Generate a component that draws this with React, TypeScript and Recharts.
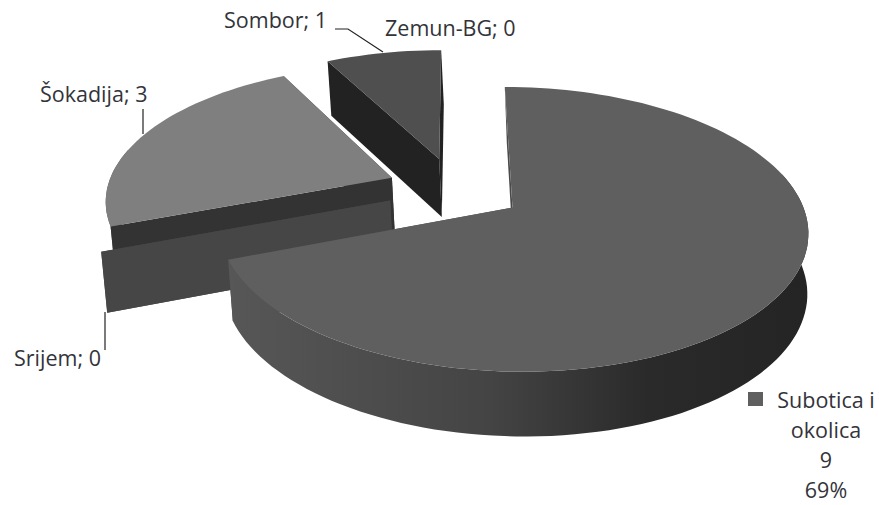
import { Pie, PieChart } from 'recharts';

// listed counter-clockwise from 12 o'clock, so the front slice paints last
const regions = ['Zemun-BG', 'Sombor', 'Šokadija', 'Srijem', 'Subotica i okolica'];
const counts = [0, 1, 3, 0, 9];
const topColors = ['#555555', '#4f4f4f', '#7f7f7f', '#464646', '#5f5f5f'];
const cutColors = ['#222222', '#222222', '#333333', '#464646', '#4a4a4a'];

const data = regions.map((name, i) => ({ name, value: counts[i] }));

const total = counts.reduce((a, b) => a + b, 0);
const FONT = '"Open Sans", sans-serif';
const FONT_SIZE = 21.5;
const TEXT = '#33333a';

// fake 3D: tilted plane with perspective, every slice pulled out of the centre
const EXPLODE = 0.24;
const TILT = 0.468;
const PERSPECTIVE = 0.15;
const DEPTH = 59;
const VANISH_X = 700;
const BOTTOM_SHRINK = 0.99;
const rad = Math.PI / 180;

type Pt = [number, number];

function SliceShape(props: any) {
  const { cx, cy, outerRadius: R, startAngle, endAngle, index } = props;
  const mid = (startAngle + endAngle) / 2;
  // a zero slice pointing straight back is edge-on, nothing of it shows
  if (startAngle === endAngle && Math.abs(Math.cos(mid * rad)) < 0.01) return null;
  const ou = EXPLODE * Math.cos(mid * rad);
  const ov = EXPLODE * Math.sin(mid * rad);

  // plane point -> top and bottom corner on screen
  const at = (u: number, v: number) => {
    const d = 1 + PERSPECTIVE * v;
    const x = cx + (R * u) / d;
    const y = cy - (R * TILT * v) / d;
    return { top: [x, y] as Pt, low: [VANISH_X + (x - VANISH_X) * BOTTOM_SHRINK, y + DEPTH / Math.sqrt(d)] as Pt };
  };
  const path = (pts: Pt[]) => 'M' + pts.map((p) => p[0].toFixed(1) + ',' + p[1].toFixed(1)).join('L') + 'Z';

  const apex = at(ou, ov);
  const steps = Math.max(1, Math.ceil(Math.abs(endAngle - startAngle) / 2));
  const angles: number[] = [];
  for (let i = 0; i <= steps; i++) angles.push(startAngle + ((endAngle - startAngle) * i) / steps);
  const arc = angles.map((deg) => at(ou + Math.cos(deg * rad), ov + Math.sin(deg * rad)));

  // outer wall where the rim can face the viewer; the top face hides the overlap
  const front = arc.filter((_, i) => Math.sin(angles[i] * rad) < 0.25);
  const gid = 'wall' + index;
  const first = arc[0];
  const last = arc[arc.length - 1];
  const big = Math.abs(endAngle - startAngle) > 180;

  const wall = front.length > 1 && (
    <path d={path([...front.map((p) => p.top), ...front.map((p) => p.low).reverse()])} fill={`url(#${gid})`} />
  );

  return (
    <g>
      <defs>
        <linearGradient id={gid} gradientUnits="userSpaceOnUse" x1={cx - R * 0.8} x2={cx + R * 1.25} y1={0} y2={0}>
          <stop offset="0" stopColor="#575757" />
          <stop offset="0.45" stopColor="#444444" />
          <stop offset="0.72" stopColor="#2a2a2a" />
          <stop offset="1" stopColor="#242424" />
        </linearGradient>
      </defs>
      {!big && wall}
      <path d={path([apex.top, first.top, first.low, apex.low])} fill={cutColors[index]} />
      <path d={path([apex.top, last.top, last.low, apex.low])} fill={cutColors[index]} />
      {big && wall}
      {arc.length > 2 && <path d={path([apex.top, ...arc.map((p) => p.top)])} fill={topColors[index]} />}
    </g>
  );
}

// where each data label sits and the leader drawn to its slice
const labelSpots: Record<string, { x: number; y: number; leader?: string }> = {
  'Zemun-BG': { x: 385, y: 36 },
  Sombor: { x: 224, y: 28, leader: 'M335,29L348,29L383,52' },
  'Šokadija': { x: 40, y: 102, leader: 'M143,109L143,134' },
  Srijem: { x: 14, y: 366, leader: 'M105,312L105,350' },
};

function SliceLabel(props: any) {
  const { name, value } = props;
  const spot = labelSpots[name];
  if (spot) {
    return (
      <g>
        {spot.leader && <path d={spot.leader} fill="none" stroke="#222222" strokeWidth={1.2} />}
        <text x={spot.x} y={spot.y} fontFamily={FONT} fontSize={FONT_SIZE} fill={TEXT}>
          {name}; {value}
        </text>
      </g>
    );
  }
  const lines = ['Subotica i', 'okolica', String(value), Math.round((value / total) * 100) + '%'];
  return (
    <g>
      <rect x={748} y={392} width={15} height={14} fill={topColors[4]} />
      {lines.map((line, i) => (
        <text key={line} x={826} y={408 + i * 30} textAnchor="middle" fontFamily={FONT} fontSize={FONT_SIZE} fill={TEXT}>
          {line}
        </text>
      ))}
    </g>
  );
}

export default function App() {
  return (
    <div style={{ position: 'absolute', left: 0, top: 0, width: 879, height: 505, background: '#fff' }}>
      <PieChart width={879} height={505} margin={{ top: 0, right: 0, bottom: 0, left: 0 }}>
        <Pie
          data={data}
          dataKey="value"
          nameKey="name"
          cx={455}
          cy={189}
          innerRadius={0}
          outerRadius={285}
          startAngle={90}
          endAngle={450}
          stroke="none"
          shape={SliceShape}
          label={SliceLabel}
          labelLine={false}
          isAnimationActive={false}
        />
      </PieChart>
    </div>
  );
}
